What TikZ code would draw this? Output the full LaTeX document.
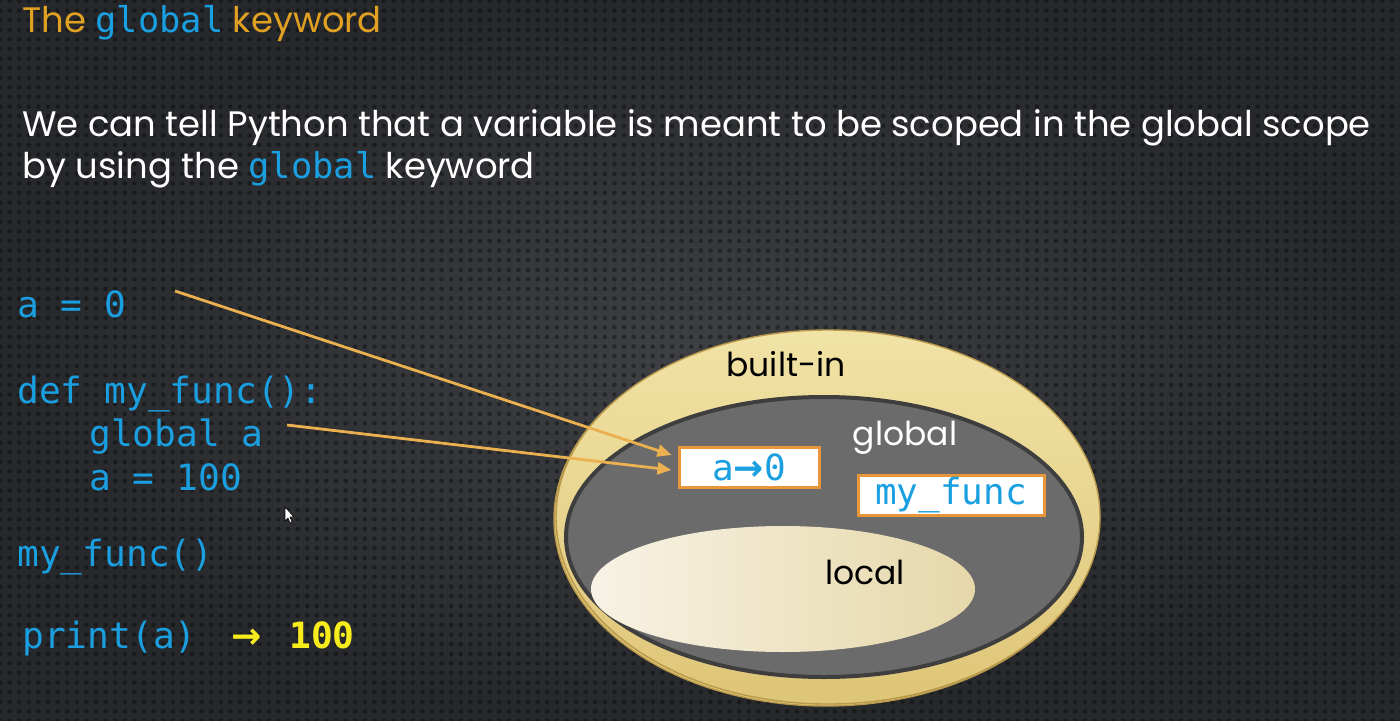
\documentclass[tikz,border=0pt]{standalone}
\usepackage{fontspec}
\setmainfont{Poppins}
\setmonofont{DejaVu Sans Mono}
\newfontfamily\arrowfont{DejaVu Sans}
\usepackage{xcolor}
\usepackage{tikz}
\usetikzlibrary{positioning,calc,arrows.meta,patterns.meta}

\definecolor{slidebg}{HTML}{3E4044}
\definecolor{slidedark}{HTML}{26282B}
\definecolor{titleorange}{HTML}{E0A021}
\definecolor{codeblue}{HTML}{1A9FE0}
\definecolor{outyellow}{HTML}{F8EC1C}
\definecolor{linkorange}{HTML}{EBB150}
\definecolor{boxorange}{HTML}{E9963A}
\definecolor{builtintop}{HTML}{F1E3A6}
\definecolor{builtinbot}{HTML}{DEC577}
\definecolor{builtinrim}{HTML}{B9994C}
\definecolor{globalgray}{HTML}{6B6B6B}
\definecolor{globalrim}{HTML}{3E3E3E}
\definecolor{localleft}{HTML}{F7F2E4}
\definecolor{localright}{HTML}{E6D8AA}

\newcommand{\thickarrow}{{\arrowfont\bfseries →}}

\tikzset{
  slidetext/.style={anchor=base west, inner sep=0pt, text=white,
    font=\fontsize{17.7}{20}\selectfont},
  code/.style={anchor=base west, inner sep=0pt, text=codeblue,
    font=\fontsize{18.1}{20}\ttfamily},
  scopelabel/.style={inner sep=0pt, font=\fontsize{16.5}{20}\selectfont},
  namebox/.style={draw=boxorange, line width=1.5pt, fill=white, text=codeblue,
    inner sep=0pt, minimum height=20pt, font=\fontsize{18}{20}\ttfamily},
  link/.style={draw=linkorange, line width=1.4pt,
    -{Triangle[length=7pt,width=6pt]}}
}

\begin{document}
\begin{tikzpicture}[x=0.5pt, y=-0.5pt]
  % slide background with the mesh of dots
  \shade[inner color=slidebg, outer color=slidedark] (0,0) rectangle (1400,721);
  \fill[pattern={Dots[distance=4.8pt, radius=1.15pt]}, pattern color=black,
    fill opacity=0.35] (0,0) rectangle (1400,721);
  \useasboundingbox (0,0) rectangle (1400,721);

  % title and text
  \node[slidetext, text=titleorange] (title) at (22,33)
    {The \texttt{\color{codeblue}global} keyword};
  \node[slidetext] (introA) at (22,137)
    {We can tell Python that a variable is meant to be scoped in the global scope};
  \node[slidetext] (introB) at (22,179)
    {by using the \texttt{\color{codeblue}global} keyword};

  % the code
  \node[code] (lineA) at (17,317) {a = 0};
  \node[code] (lineDef) at (17,403) {def my\_func():};
  \node[code] (lineGlobal) at (89,446) {global a};
  \node[code] (lineSet) at (89,490) {a = 100};
  \node[code] (lineCall) at (17,566) {my\_func()};
  \node[code] (linePrint) at (22,648) {print(a)};
  \node[code, text=outyellow] (printArrow) at (231,648) {\thickarrow};
  \node[code, text=outyellow] (printOut) at (289,648) {\bfseries 100};

  % mouse pointer
  \fill[white, draw=black, line width=0.3pt] (285,507) -- (285,521) -- (288,518)
    -- (290,523) -- (292,522) -- (290,517) -- (294,517) -- cycle;

  % built-in scope
  \path[draw=builtinrim, line width=0.7pt, fill=builtinbot]
    (826,519) ellipse [x radius=272, y radius=187];
  \path[draw=builtinrim, line width=0.7pt, top color=builtintop, bottom color=builtinbot]
    (828,517) ellipse [x radius=272, y radius=187];
  % global scope
  \path[draw=globalrim, line width=2pt, fill=globalgray]
    (824,537) ellipse [x radius=258, y radius=140];
  % local scope
  \path[left color=localleft, right color=localright]
    (783,589) ellipse [x radius=192, y radius=63];

  \node[scopelabel] (builtinLbl) at (786,364) {built-in};
  \node[scopelabel, text=white] (globalLbl) at (905,438) {global};
  \node[scopelabel] (localLbl) at (865,572) {local};

  \node[namebox, minimum width=70pt] (aBox) at (749,467) {a\thickarrow0};
  \node[namebox, minimum width=93pt] (funcBox) at (951,495) {my\_func};

  % links from the code to the name
  \coordinate (fromA) at (175,291);
  \coordinate (fromGlobal) at (287,425);
  \draw[link] (fromA) -- ($(aBox.west)+(-6,-12)$);
  \draw[link] (fromGlobal) -- ($(aBox.west)+(-6,3)$);
\end{tikzpicture}
\end{document}
